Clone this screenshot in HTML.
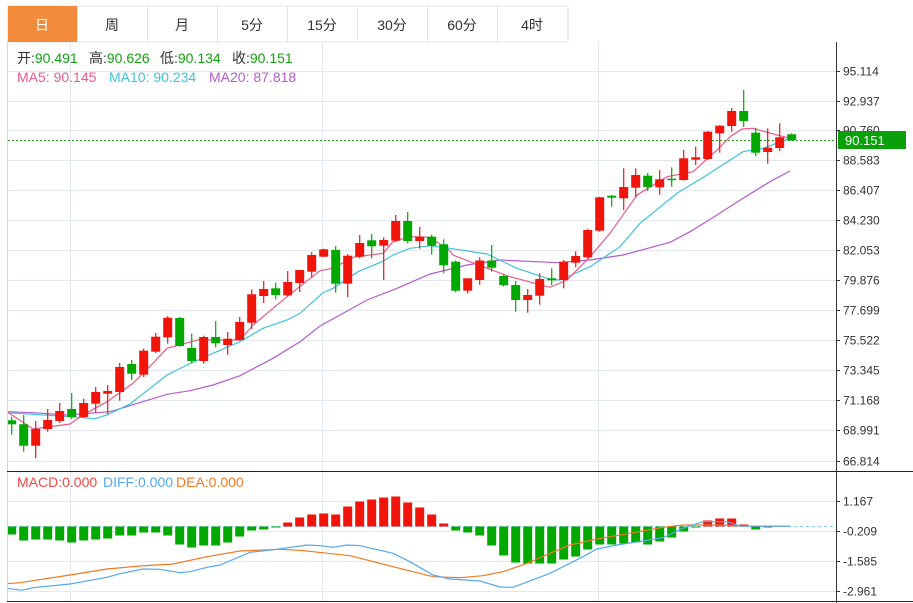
<!DOCTYPE html>
<html><head><meta charset="utf-8"><style>
html,body{margin:0;padding:0;background:#fff;width:913px;height:603px;overflow:hidden;font-family:"Liberation Sans","Noto Sans CJK SC",sans-serif}
</style></head><body>
<svg id="s" width="913" height="603" xmlns="http://www.w3.org/2000/svg" style="position:absolute;left:0;top:0" font-family="Liberation Sans, Noto Sans CJK SC, sans-serif">
<g id="grid" stroke="#e3e8ee" stroke-width="1"></g>
<rect x="8" y="6" width="560" height="36" fill="#fff" stroke="#dfe4ea"/>
<rect x="8" y="6" width="69" height="36" fill="#f28c3c"/>
<g stroke="#dfe4ea"><line x1="77.5" y1="6" x2="77.5" y2="42"/><line x1="147.5" y1="6" x2="147.5" y2="42"/><line x1="217.5" y1="6" x2="217.5" y2="42"/><line x1="287.5" y1="6" x2="287.5" y2="42"/><line x1="357.5" y1="6" x2="357.5" y2="42"/><line x1="427.5" y1="6" x2="427.5" y2="42"/><line x1="497.5" y1="6" x2="497.5" y2="42"/></g>
<g font-size="14" text-anchor="middle" fill="#333"><text x="42" y="30" fill="#fff">日</text><text x="112" y="30">周</text><text x="182" y="30">月</text><text x="252" y="30">5分</text><text x="322" y="30">15分</text><text x="392" y="30">30分</text><text x="462" y="30">60分</text><text x="532" y="30">4时</text></g>
<g id="plot"></g>
<line x1="7.5" y1="42" x2="7.5" y2="601" stroke="#cfd6de"/>
<line x1="836.5" y1="42" x2="836.5" y2="603" stroke="#333"/>
<line x1="7" y1="471.5" x2="913" y2="471.5" stroke="#222"/>
<line x1="7" y1="601.5" x2="913" y2="601.5" stroke="#222"/>
<g font-size="14" fill="#333">
<text x="17" y="63">开:<tspan fill="#12a012">90.491</tspan></text>
<text x="89" y="63">高:<tspan fill="#12a012">90.626</tspan></text>
<text x="160" y="63">低:<tspan fill="#12a012">90.134</tspan></text>
<text x="232" y="63">收:<tspan fill="#12a012">90.151</tspan></text>
<text x="17" y="82" fill="#ea5a88">MA5: 90.145</text>
<text x="109" y="82" fill="#3ec3dc">MA10: 90.234</text>
<text x="209" y="82" fill="#b45ccc">MA20: 87.818</text>
<text x="17" y="487" fill="#f04848">MACD:0.000</text>
<text x="103" y="487" fill="#55a8ee">DIFF:0.000</text>
<text x="176" y="487" fill="#f07a22">DEA:0.000</text></g>
<g id="ax" font-size="12" fill="#333"></g>
<rect x="838" y="131" width="68" height="18" fill="#0aa00a"/>
<text x="845" y="145" font-size="13" fill="#fff">90.151</text>
</svg>
<script>
var NS="http://www.w3.org/2000/svg";
function el(p,t,a,txt){var e=document.createElementNS(NS,t);for(var k in a)e.setAttribute(k,a[k]);if(txt)e.textContent=txt;p.appendChild(e);return e;}
var g=document.getElementById('grid'),pl=document.getElementById('plot'),ax=document.getElementById('ax');
var pys=[71,101,130,160,190,220,250,280,310,340,370,400,430,461];
var plab=["95.114","92.937","90.760","88.583","86.407","84.230","82.053","79.876","77.699","75.522","73.345","71.168","68.991","66.814"];
pys.forEach(function(y,i){el(g,'line',{x1:8,x2:836,y1:y+.5,y2:y+.5});el(ax,'line',{x1:836,x2:840,y1:y+.5,y2:y+.5,stroke:'#333'});el(ax,'text',{x:843,y:y+4.5},plab[i]);});
[[501,"1.167"],[531,"-0.209"],[561,"-1.585"],[591,"-2.961"]].forEach(function(a){el(g,'line',{x1:8,x2:836,y1:a[0]+.5,y2:a[0]+.5});el(ax,'line',{x1:836,x2:840,y1:a[0]+.5,y2:a[0]+.5,stroke:'#333'});el(ax,'text',{x:843,y:a[0]+4.5},a[1]);});
[70,322,598].forEach(function(x){el(g,'line',{x1:x+.5,x2:x+.5,y1:42,y2:601});});
var C=[[420.3,424.3,416.7,434.7],[424.3,445.7,415,451.7],[445.7,429,421,458],[429,420,409,431.7],[421,411,403,423],[409,417,393,419],[417,403,398.7,418],[403.7,392,387,412.7],[393.7,391,385,414],[392,367,363,400.7],[364,373.7,360,380],[374.7,350.7,348.7,377],[351.7,336.7,333,353],[337.3,317.7,316,343.7],[318,346,317,346.7],[348,361,333.7,363.3],[361,337,335.7,363.7],[337,343.3,321,347.3],[345,338.7,332,354.7],[340,322,317,340.3],[322.7,294.3,289.3,329],[296,289,281,303],[288.3,295,282.7,299.3],[295.3,282,271,296],[283,270,270,292],[271.7,255,252,277.3],[256.7,249.3,248.7,257],[250,283.7,246,292.7],[283.7,255.7,254,297.3],[256.7,243,235,258.3],[240.3,246.3,234,258.3],[245.7,240,237.3,280],[240.7,221,215,241.7],[221,241,212,243.3],[241,236.7,227,248.7],[236.7,245.7,234.7,254.7],[244.3,265.3,239.3,273.3],[261.7,290.7,260.3,292.3],[290.7,278.3,278.3,293.7],[280,260.5,257.3,284.7],[260.5,267.7,245,271.7],[276,285,274,286.7],[285,300,281,311.7],[300,295,289,312.7],[295.7,279,273.3,304.7],[278.3,280.3,268.3,285],[280,261.7,260,288.3],[262.7,256,251.3,267.3],[257.3,230,228.7,258.3],[230.7,197.3,196.7,231.7],[195.7,197.7,195,206.7],[198.3,187,168.3,210],[187.7,175,168.3,196.7],[175.7,187,173,191],[187.3,179.3,170,194.7],[178.7,180,167.3,186.7],[180,158.3,150,180.7],[159.7,157.3,146.7,165],[159,131.7,131,160],[133.3,125.7,125,152.7],[126,111,108,131.7],[111,121,90,127],[132.7,152.7,127.7,156],[152,147.7,128.3,163.7],[148,137.3,123.3,151],[134.3,140.3,133.3,141]];
var M=[-8,-14,-13,-13,-14,-16,-14,-13,-12,-9,-9,-6,-6,-9,-18,-21,-19,-19,-16,-10,-4,-3,-1,4,9,12,13,12,20,25,27,29,30,24,19,12,3,-4,-6,-9,-19,-29,-36,-37,-37,-37,-33,-30,-23,-18,-18,-17,-16,-18,-15,-11,-5,-1,6,8,8,2,-3,-1,0,0];
var R='#f0140a',G='#00a800';
el(pl,'line',{x1:8,x2:836,y1:140.5,y2:140.5,stroke:'#1aa01a','stroke-dasharray':'2,2'});
function poly(pts,c){el(pl,'polyline',{points:pts,fill:'none',stroke:c,'stroke-width':1.2});}
poly("7,411.7 33,412.7 67,415 110,411.7 167,394.3 190,390.7 213,385 240,375.7 273,358.3 300,341.7 320,326 340,315 367,300 397,288.3 430,274 467,265 500,260 557,262.7 590,260 623,255 670,242.3 690,231.7 717,215 743,198.3 770,181.7 790,171","#b45ccc");
poly("7,412.7 70,416.7 95,418.7 107,415 130,404 167,375 187,365 213,353.3 240,341.7 263,328.3 287,320 300,313.3 323,292.7 333,288.3 358,271.7 382,261.7 393,255 410,248.3 430,245.7 450,248.3 487,254 517,268.3 550,279.3 560,280 590,266.7 620,246.7 640,223.3 677,193.3 707,175 743,151.7 763,148.3 790,138.3","#3ec3dc");
poly("7,411.7 33,429 70,424 83,415 107,401.7 133,383.3 153,363.3 167,348.3 200,339.3 213,340 240,340 253,325 287,296.7 320,270.7 333,268.3 353,257.3 383,253.3 393,241.7 410,236.7 430,237.3 450,251 453,255 483,266.7 510,276.7 550,287.3 567,280 590,256.7 610,233.3 637,195 667,176.7 693,171.7 717,150 730,136.7 742,129 753,128.3 777,135 790,138.3","#ea5a88");
C.forEach(function(c,i){var x=11.7+12*i;var up=c[1]<c[0];var col=up?R:G;
 el(pl,'line',{x1:x,x2:x,y1:c[2],y2:c[3],stroke:col,'stroke-width':1.2});
 var t=Math.min(c[0],c[1]),h=Math.max(1.5,Math.abs(c[0]-c[1]));
 el(pl,'rect',{x:x-4.5,y:t,width:9,height:h,fill:col});});
var Z=526.5;
el(pl,'line',{x1:8,x2:836,y1:Z,y2:Z,stroke:'#8fc8ec','stroke-dasharray':'3,3'});
M.forEach(function(v,i){if(!v)return;var x=11.7+12*i;el(pl,'rect',{x:x-4.5,y:v>0?Z-v:Z,width:9,height:Math.abs(v),fill:v>0?R:G});});
function pl2(p,c){el(pl,'polyline',{points:p,fill:'none',stroke:c,'stroke-width':1.2});}
pl2("7,583.7 20,582.7 70,575 107,569 140,566 173,564 207,556.7 240,551 280,549.3 300,550.3 350,555.7 393,566.7 433,576.7 460,577.7 483,575.7 503,571.7 527,563.3 550,553.3 570,545 597,539 630,533.3 663,527.3 683,525 717,525 740,526 790,526.3","#f07a22");
pl2("7,588.3 22,590.3 33,587.7 70,584 107,577.3 120,573.7 143,569 160,569.3 180,572.7 190,571.7 207,567.3 220,565 250,552.3 277,549.3 307,545 320,545.7 333,547.3 347,545 360,545.7 393,553.3 410,561.7 433,575 450,579 480,581 500,587 513,587.3 550,573.3 583,556.7 597,549 617,545 643,541 663,537.7 683,528.3 703,521.7 727,521.7 740,526 790,526.3","#55a8ee");
</script>
</body></html>
